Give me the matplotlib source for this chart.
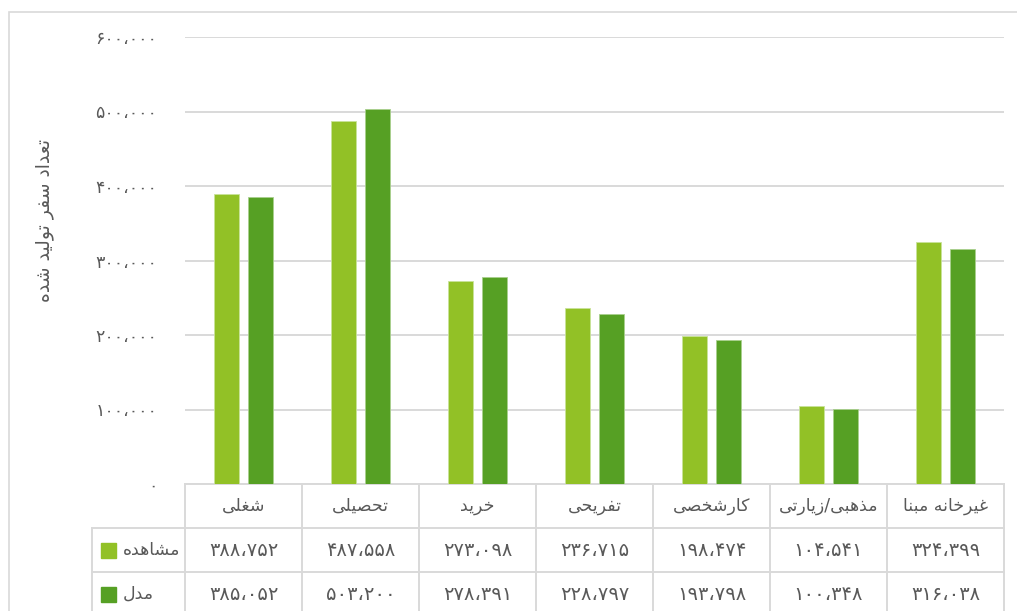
import matplotlib
matplotlib.use("Agg")
import matplotlib.pyplot as plt
from matplotlib import font_manager
from matplotlib.ft2font import FT2Font
from matplotlib.patches import Rectangle
from matplotlib.lines import Line2D
import numpy as np

# data
categories = ["شغلی", "تحصیلی", "خرید", "تفریحی", "کارشخصی", "مذهبی/زیارتی", "غیرخانه مبنا"]
observed = [388752, 487558, 273098, 236715, 198474, 104541, 324399]
model = [385052, 503200, 278391, 228797, 193798, 100348, 316038]
series_names = ["مشاهده", "مدل"]
y_ticks = [0, 100000, 200000, 300000, 400000, 500000, 600000]
y_label = "تعداد سفر تولید شده"

light_green = "#92C126"
dark_green = "#56A024"
text_col = "#595959"
line_col = "#D9D9D9"

# simple arabic/persian shaping (isolated, final, initial, medial)
FORMS = {
    "ا": (0xFE8D, 0xFE8E, None, None),
    "ب": (0xFE8F, 0xFE90, 0xFE91, 0xFE92),
    "ت": (0xFE95, 0xFE96, 0xFE97, 0xFE98),
    "ح": (0xFEA1, 0xFEA2, 0xFEA3, 0xFEA4),
    "خ": (0xFEA5, 0xFEA6, 0xFEA7, 0xFEA8),
    "د": (0xFEA9, 0xFEAA, None, None),
    "ذ": (0xFEAB, 0xFEAC, None, None),
    "ر": (0xFEAD, 0xFEAE, None, None),
    "ز": (0xFEAF, 0xFEB0, None, None),
    "س": (0xFEB1, 0xFEB2, 0xFEB3, 0xFEB4),
    "ش": (0xFEB5, 0xFEB6, 0xFEB7, 0xFEB8),
    "ص": (0xFEB9, 0xFEBA, 0xFEBB, 0xFEBC),
    "ع": (0xFEC9, 0xFECA, 0xFECB, 0xFECC),
    "غ": (0xFECD, 0xFECE, 0xFECF, 0xFED0),
    "ف": (0xFED1, 0xFED2, 0xFED3, 0xFED4),
    "ل": (0xFEDD, 0xFEDE, 0xFEDF, 0xFEE0),
    "م": (0xFEE1, 0xFEE2, 0xFEE3, 0xFEE4),
    "ن": (0xFEE5, 0xFEE6, 0xFEE7, 0xFEE8),
    "ه": (0xFEE9, 0xFEEA, 0xFEEB, 0xFEEC),
    "و": (0xFEED, 0xFEEE, None, None),
    "ی": (0xFBFC, 0xFBFD, 0xFBFE, 0xFBFF),
    "ک": (0xFB8E, 0xFB8F, 0xFB90, 0xFB91),
}

font = FT2Font(font_manager.findfont("DejaVu Sans"))
if font.get_char_index(0xFBFC) == 0:
    FORMS["ی"] = (0xFEEF, 0xFEF0, 0xFEF3, 0xFEF4)
if font.get_char_index(0xFB8E) == 0:
    FORMS["ک"] = (0xFED9, 0xFEDA, 0xFEDB, 0xFEDC)


def shape(text):
    out = []
    for i, ch in enumerate(text):
        if ch not in FORMS:
            out.append(ch)
            continue
        f = FORMS[ch]
        prev = text[i - 1] if i > 0 else None
        nxt = text[i + 1] if i < len(text) - 1 else None
        jp = prev in FORMS and FORMS[prev][2] is not None
        jn = f[2] is not None and nxt in FORMS
        if jp and jn:
            c = f[3]
        elif jp:
            c = f[1]
        elif jn:
            c = f[2]
        else:
            c = f[0]
        out.append(chr(c))
    return "".join(out)[::-1]


def fa_num(v):
    s = f"{v:,}"
    return s.translate(str.maketrans("0123456789,", "۰۱۲۳۴۵۶۷۸۹،"))


plt.rcParams["font.family"] = ["DejaVu Sans"]

W, H = 1017, 611
fig = plt.figure(figsize=(W / 100, H / 100), dpi=100)

# outer frame
fig.add_artist(Rectangle((9 / W, -0.1), 1.2, (H - 12) / H + 0.1, transform=fig.transFigure,
                         fill=False, edgecolor=line_col, linewidth=1.2))

left, right, top, bottom = 185, 1004, 37, 484
ax = fig.add_axes([left / W, (H - bottom) / H, (right - left) / W, (bottom - top) / H])

x = np.arange(len(categories))
bw = 0.22
off = 0.145
ax.bar(x - off, observed, bw, color=light_green, edgecolor="#C9E39A", linewidth=0.6, zorder=3)
ax.bar(x + off, model, bw, color=dark_green, edgecolor="#A9D08E", linewidth=0.6, zorder=3)

ax.set_xlim(-0.5, len(categories) - 0.5)
ax.set_ylim(0, 600000)
ax.set_yticks(y_ticks)
ax.set_yticklabels([fa_num(v) for v in y_ticks], color=text_col, fontsize=12.5)
ax.set_xticks([])
ax.tick_params(axis="y", length=0, pad=20)
ax.yaxis.grid(True, color=line_col, linewidth=1.4)
ax.set_axisbelow(True)
for s in ax.spines.values():
    s.set_visible(False)

fig.text(45 / W, (H - 220) / H, shape(y_label), rotation=90, ha="center", va="center",
         fontsize=13.5, color=text_col)

# data table below the axes
row_h = 44 / (bottom - top)
tr = ax.get_xaxis_transform()
x_leg = -0.5 - 93 / 117
n = len(categories)

def hline(y, x0, x1):
    ax.add_line(Line2D([x0, x1], [y, y], transform=tr, color=line_col, lw=1.4, clip_on=False))

def vline(xv, y0, y1):
    ax.add_line(Line2D([xv, xv], [y0, y1], transform=tr, color=line_col, lw=1.4, clip_on=False))

hline(0, -0.5, n - 0.5)
hline(-row_h, x_leg, n - 0.5)
hline(-2 * row_h, x_leg, n - 0.5)
hline(-3 * row_h, x_leg, n - 0.5)
for k in range(n + 1):
    vline(k - 0.5, 0, -3 * row_h)
vline(x_leg, -row_h, -3 * row_h)

for i, c in enumerate(categories):
    ax.text(i, -0.5 * row_h, shape(c), transform=tr, ha="center", va="center",
            fontsize=12.5, color=text_col, clip_on=False)
    ax.text(i, -1.5 * row_h, fa_num(observed[i]), transform=tr, ha="center", va="center",
            fontsize=14, color=text_col, clip_on=False)
    ax.text(i, -2.5 * row_h, fa_num(model[i]), transform=tr, ha="center", va="center",
            fontsize=14, color=text_col, clip_on=False)

sw = 15 / 117
for r, (name, col) in enumerate(zip(series_names, [light_green, dark_green])):
    yc = -(1.5 + r) * row_h
    ax.add_patch(Rectangle((x_leg + 9 / 117, yc - 7.5 / (bottom - top)), sw, 15 / (bottom - top),
                           transform=tr, color=col, clip_on=False))
    ax.text(x_leg + 31 / 117, yc, shape(name), transform=tr, ha="left", va="center",
            fontsize=12.5, color=text_col, clip_on=False)

fig.savefig("out.png", dpi=100)
